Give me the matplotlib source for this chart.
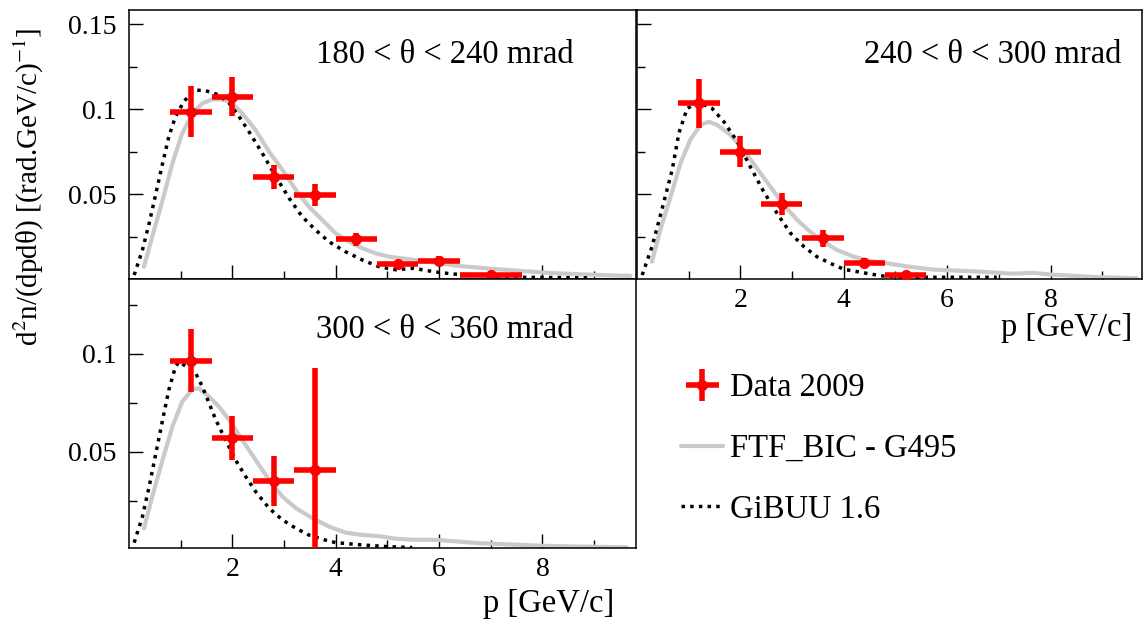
import numpy as np
import matplotlib
matplotlib.use('Agg')
import matplotlib.pyplot as plt

plt.rcParams['font.family'] = ['Liberation Serif', 'DejaVu Serif']
plt.rcParams['mathtext.fontset'] = 'stix'

# ---- data, 180 < theta < 240 mrad
d1_p = [1.2, 2.0, 2.8, 3.6, 4.4, 5.2, 6.0, 7.0]
d1_dp = [0.4, 0.4, 0.4, 0.4, 0.4, 0.4, 0.4, 0.6]
d1_v = [0.0986, 0.1075, 0.0604, 0.0496, 0.0235, 0.0090, 0.0110, 0.0028]
d1_e = [0.0149, 0.0114, 0.0070, 0.0064, 0.0040, 0.0015, 0.0025, 0.0012]
ftf1_p = [0.29, 0.45, 0.65, 0.84, 1.03, 1.23, 1.42, 1.61, 1.81, 2.0, 2.19, 2.45, 2.71, 2.97,
          3.23, 3.48, 3.74, 4.0, 4.26, 4.52, 4.77, 5.03, 5.29, 5.5, 6.0, 6.4, 7.18, 8.14, 9.1, 9.7]
ftf1_v = [0.0074, 0.0251, 0.0466, 0.0682, 0.0859, 0.0976, 0.1035, 0.1058, 0.1058, 0.1035,
          0.0976, 0.0878, 0.0751, 0.0643, 0.0525, 0.0427, 0.0349, 0.0270, 0.0221, 0.0182,
          0.0153, 0.0133, 0.0123, 0.0115, 0.0095, 0.0078, 0.0058, 0.0037, 0.0025, 0.0020]
gib1_p = [0.1, 0.26, 0.39, 0.52, 0.65, 0.77, 0.9, 1.06, 1.26, 1.48, 1.74, 1.94, 2.13, 2.32,
          2.58, 2.84, 3.1, 3.35, 3.61, 3.87, 4.19, 4.52, 4.84, 5.16, 5.5, 5.89, 6.27, 7.63, 8.9]
gib1_v = [0.0025, 0.0172, 0.0329, 0.0505, 0.0682, 0.0839, 0.0957, 0.1045, 0.1113, 0.1110,
          0.1084, 0.1035, 0.0957, 0.0869, 0.0741, 0.0604, 0.0476, 0.0369, 0.0290, 0.0221,
          0.0162, 0.0113, 0.0074, 0.0056, 0.0065, 0.0045, 0.0031, 0.0012, 0.0008]

# ---- data, 240 < theta < 300 mrad
d2_p = [1.2, 2.0, 2.8, 3.6, 4.4, 5.2]
d2_dp = [0.4, 0.4, 0.4, 0.4, 0.4, 0.4]
d2_v = [0.1035, 0.0751, 0.0443, 0.0241, 0.0098, 0.0025]
d2_e = [0.0144, 0.0093, 0.0066, 0.0049, 0.0030, 0.0010]
ftf2_p = [0.29, 0.45, 0.65, 0.84, 1.03, 1.23, 1.39, 1.55, 1.81, 2.06, 2.32, 2.58, 2.84, 3.1,
          3.35, 3.61, 3.87, 4.19, 4.52, 4.84, 5.22, 5.73, 6.63, 7.28, 7.66, 8.05, 8.89, 9.67]
ftf2_v = [0.0104, 0.0290, 0.0486, 0.0682, 0.0820, 0.0908, 0.0927, 0.0908, 0.0849, 0.0761,
          0.0653, 0.0545, 0.0437, 0.0349, 0.0280, 0.0221, 0.0172, 0.0133, 0.0108, 0.0094,
          0.0076, 0.0057, 0.0045, 0.0033, 0.0038, 0.0027, 0.0013, 0.0006]
gib2_p = [0.1, 0.29, 0.48, 0.68, 0.81, 0.97, 1.2, 1.45, 1.68, 1.94, 2.19, 2.45, 2.71, 2.97,
          3.23, 3.48, 3.74, 4.0, 4.52, 4.77, 5.3, 6.96]
gib2_v = [0.0025, 0.0192, 0.0408, 0.0643, 0.0859, 0.1006, 0.1040, 0.1006, 0.0927, 0.0810,
          0.0663, 0.0516, 0.0388, 0.0271, 0.0192, 0.0133, 0.0094, 0.0059, 0.0031, 0.0019,
          0.0012, 0.0012]

# ---- data, 300 < theta < 360 mrad
d3_p = [1.2, 2.0, 2.8, 3.6]
d3_dp = [0.4, 0.4, 0.4, 0.4]
d3_v = [0.0965, 0.0568, 0.0352, 0.0406]
d3_e = [0.0160, 0.0113, 0.0128, 0.0520]
ftf3_p = [0.29, 0.45, 0.65, 0.84, 1.03, 1.23, 1.35, 1.55, 1.74, 1.94, 2.19, 2.45, 2.71, 2.97,
          3.23, 3.55, 3.87, 4.19, 4.52, 4.84, 5.16, 5.48, 5.95, 6.79, 8.08, 9.63]
ftf3_v = [0.0108, 0.0270, 0.0458, 0.0628, 0.0756, 0.0819, 0.0824, 0.0781, 0.0730, 0.0662,
          0.0560, 0.0458, 0.0355, 0.0270, 0.0211, 0.0160, 0.0117, 0.0086, 0.0074, 0.0068,
          0.0055, 0.0050, 0.0049, 0.0032, 0.0018, 0.0011]
gib3_p = [0.1, 0.26, 0.39, 0.52, 0.65, 0.77, 0.9, 0.97, 1.29, 1.42, 1.55, 1.68, 1.87, 2.06,
          2.26, 2.45, 2.71, 2.97, 3.23, 3.48, 3.74, 4.0, 4.52, 5.03, 5.48]
gib3_v = [0.0035, 0.0168, 0.0321, 0.0492, 0.0662, 0.0815, 0.0935, 0.0960, 0.0901, 0.0832,
          0.0747, 0.0662, 0.0560, 0.0458, 0.0372, 0.0296, 0.0211, 0.0151, 0.0108, 0.0074,
          0.0052, 0.0035, 0.0023, 0.0014, 0.0010]

labels = ['Data 2009', 'FTF_BIC - G495', 'GiBUU 1.6']
ranges = ['180 < θ < 240 mrad', '240 < θ < 300 mrad', '300 < θ < 360 mrad']

W, H = 1144, 620
fig = plt.figure(figsize=(W / 100, H / 100), dpi=100)


def box(x0, y0, x1, y1):
    # pixel box (top-left origin) -> figure fraction rect
    return [x0 / W, 1 - y1 / H, (x1 - x0) / W, (y1 - y0) / H]


ax1 = fig.add_axes(box(129, 10, 636, 279.3))
ax2 = fig.add_axes(box(637, 10, 1142, 279.3))
ax3 = fig.add_axes(box(129, 279.3, 636, 548.3))

grey = '#cacaca'
big = 23.5
handles = None
for ax, dp, ddp, dv, de, fp, fv, gp, gv in [
        (ax1, d1_p, d1_dp, d1_v, d1_e, ftf1_p, ftf1_v, gib1_p, gib1_v),
        (ax2, d2_p, d2_dp, d2_v, d2_e, ftf2_p, ftf2_v, gib2_p, gib2_v),
        (ax3, d3_p, d3_dp, d3_v, d3_e, ftf3_p, ftf3_v, gib3_p, gib3_v)]:
    lf, = ax.plot(fp, fv, color=grey, lw=3, solid_capstyle='round', zorder=2)
    lg, = ax.plot(gp, gv, color='black', lw=2.5, ls=(0, (1, 1.5)), zorder=3)
    eb = ax.errorbar(dp, dv, xerr=ddp, yerr=de, fmt='o', color='red', ms=7,
                     elinewidth=4, capsize=0, zorder=4)
    if handles is None:
        handles = [eb, lf, lg]
    ax.tick_params(which='both', direction='in', width=1, top=False, right=False)
    ax.tick_params(which='major', length=10, labelsize=20, pad=6)
    ax.tick_params(which='minor', length=5.5)
    ax.set_xticks([2, 4, 6, 8])
    ax.set_xticks([1, 3, 5, 7, 9], minor=True)
    ax.set_yticks([0.025, 0.075, 0.125], minor=True)
    for s in ax.spines.values():
        s.set_linewidth(1.1)

ax1.set_xlim(0, 9.81)
ax3.set_xlim(0, 9.81)
ax2.set_xlim(0, 9.77)
ax1.set_ylim(0, 0.1584)
ax2.set_ylim(0, 0.1584)
ax3.set_ylim(0.0006, 0.1381)

ax1.set_yticks([0.05, 0.1, 0.15])
ax1.set_yticklabels(['0.05', '0.1', '0.15'])
ax2.set_yticks([0.05, 0.1, 0.15])
ax2.set_yticklabels([])
ax3.set_yticks([0.05, 0.1])
ax3.set_yticklabels(['0.05', '0.1'])
ax1.set_xticklabels([])
ax1.tick_params(axis='y', pad=9)
ax3.tick_params(axis='y', pad=9)

ax1.text(0.876, 0.835, ranges[0], transform=ax1.transAxes, ha='right', va='center', fontsize=big)
ax2.text(0.96, 0.835, ranges[1], transform=ax2.transAxes, ha='right', va='center', fontsize=big)
ax3.text(0.876, 0.812, ranges[2], transform=ax3.transAxes, ha='right', va='center', fontsize=big)

ax2.text(0.98, -0.18, 'p [GeV/c]', transform=ax2.transAxes, ha='right', va='center', fontsize=big)
ax3.text(0.957, -0.207, 'p [GeV/c]', transform=ax3.transAxes, ha='right', va='center', fontsize=big)

fig.text(29 / W, 1 - 187 / H, r'd$^{2}$n/(dpdθ) [(rad.GeV/c)$^{-1}$]', rotation=90,
         ha='center', va='center', fontsize=21)

fig.legend(handles, labels, loc='upper left', bbox_to_anchor=(681 / W, 1 - 373 / H),
           frameon=False, fontsize=big, handlelength=1.3, handletextpad=0.2,
           labelspacing=0.92, borderpad=0, borderaxespad=0)

fig.savefig('out.png', dpi=100)
